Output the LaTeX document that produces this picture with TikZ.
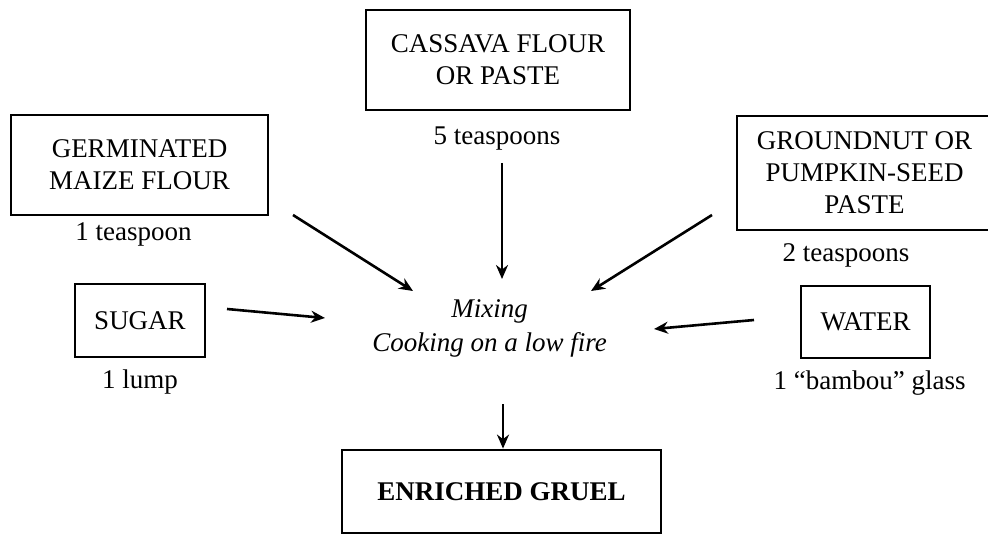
\documentclass[tikz,border=0pt]{standalone}
\usepackage{fontspec}
\setmainfont{Liberation Serif}
\usetikzlibrary{arrows.meta}
\tikzset{
  item/.style={draw, line width=1.4pt, align=center, inner sep=0pt,
    font=\fontsize{13.5}{16}\selectfont},
  qty/.style={inner sep=0pt, font=\fontsize{13.5}{16}\selectfont},
  arr/.style={-{Stealth[length=7pt,width=6pt]}, line width=1.3pt}
}
\begin{document}
\begin{tikzpicture}[x=0.5pt,y=-0.5pt]
        \clip (0,0) rectangle (988,534);
        % ingredients
        \node[item, minimum width=132pt, minimum height=50pt] (cassava) at (498,60) {CASSAVA FLOUR\\OR PASTE};
        \node[item, minimum width=128.5pt, minimum height=50pt] (maize) at (139.5,165) {GERMINATED\\MAIZE FLOUR};
        \node[item, minimum width=127.5pt, minimum height=57pt] (nut) at (864.5,173) {GROUNDNUT OR\\PUMPKIN-SEED\\PASTE};
        \node[item, minimum width=65pt, minimum height=36.5pt] (sugar) at (140,320.5) {SUGAR};
        \node[item, minimum width=64.5pt, minimum height=36pt] (water) at (865.5,322) {WATER};
        \node[qty] (cassavaqty) at (497,139) {5 teaspoons};
        \node[qty] (maizeqty) at (133.5,234) {1 teaspoon};
        \node[qty] (nutqty) at (846,255) {2 teaspoons};
        \node[qty] (sugarqty) at (140,382) {1 lump};
        \node[qty] (waterqty) at (869.5,383) {1 “bambou” glass};
        % process and result
        \node[align=center, inner sep=0pt, font=\fontsize{13.5}{17}\selectfont\itshape] (mix) at (489.5,328) {Mixing\\Cooking on a low fire};
        \node[item, minimum width=159.5pt, minimum height=41.5pt, font=\fontsize{13.5}{16}\selectfont\bfseries] (gruel) at (501.5,491.5) {ENRICHED GRUEL};
        \coordinate (maize-out) at (293,215);
        \coordinate (maize-in) at (413,291);
        \coordinate (cassava-out) at (502,163);
        \coordinate (cassava-in) at (502,279);
        \coordinate (nut-out) at (712,215);
        \coordinate (nut-in) at (591,291);
        \coordinate (sugar-out) at (227,309);
        \coordinate (sugar-in) at (325,318);
        \coordinate (water-out) at (754,320);
        \coordinate (water-in) at (654,329);
        \coordinate (mix-out) at (503,404);
        \draw[arr] (maize-out) -- (maize-in);
        \draw[arr] (cassava-out) -- (cassava-in);
        \draw[arr] (nut-out) -- (nut-in);
        \draw[arr] (sugar-out) -- (sugar-in);
        \draw[arr] (water-out) -- (water-in);
        \draw[arr] (mix-out) -- (mix-out |- gruel.north);
    \end{tikzpicture}
\end{document}
